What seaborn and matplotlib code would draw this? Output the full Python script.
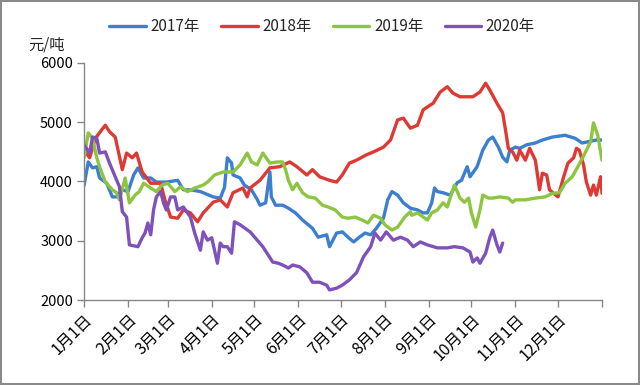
import matplotlib
matplotlib.use("Agg")
import matplotlib.pyplot as plt
import matplotlib.transforms as mtransforms
import seaborn as sns
import pandas as pd

# ---- data (day of year, price in 元/吨) ----
years = ["2017年", "2018年", "2019年", "2020年"]
colors = ["#3D7FCF", "#DE3A33", "#8DC440", "#7E52B8"]

days_2017 = [0, 3, 6, 9, 11, 16, 20, 23, 27, 31, 35, 38, 42, 47, 51, 58, 66, 70, 75, 82, 91, 96, 99,
             101, 104, 105, 110, 113, 118, 122, 124, 128, 131, 132, 135, 140, 144, 149, 154, 161, 165,
             171, 173, 178, 182, 186, 190, 194, 198, 202, 206, 211, 214, 217, 221, 225, 230, 235, 239,
             242, 245, 247, 249, 253, 258, 263, 266, 270, 272, 277, 281, 285, 288, 292, 295, 298, 300,
             304, 307, 312, 318, 323, 330, 339, 346, 351, 355, 361, 365]
vals_2017 = [3930, 4330, 4230, 4250, 4060, 3970, 3740, 3740, 3860, 3830, 4110, 4230, 4060, 4060, 3990,
             3990, 4020, 3860, 3860, 3830, 3740, 3720, 3900, 4400, 4310, 4110, 4060, 3940, 3860, 3700,
             3600, 3640, 4160, 3740, 3600, 3600, 3550, 3470, 3350, 3210, 3060, 3100, 2900, 3130, 3150,
             3060, 2980, 3060, 3130, 3100, 3210, 3380, 3690, 3830, 3770, 3640, 3550, 3520, 3470, 3470,
             3640, 3890, 3830, 3810, 3770, 3980, 4020, 4250, 4080, 4250, 4530, 4700, 4750, 4580, 4410,
             4330, 4530, 4580, 4560, 4620, 4650, 4700, 4750, 4780, 4730, 4650, 4670, 4700, 4700]

days_2018 = [0, 4, 8, 15, 18, 22, 27, 30, 34, 37, 41, 47, 54, 57, 61, 66, 70, 75, 80, 84, 91, 96, 101,
             105, 112, 115, 117, 124, 131, 138, 145, 150, 157, 161, 166, 173, 178, 182, 187, 192, 199,
             204, 211, 216, 221, 225, 230, 235, 239, 244, 246, 251, 256, 260, 265, 270, 274, 279, 283,
             286, 291, 295, 297, 299, 302, 305, 307, 311, 314, 318, 319, 321, 323, 326, 328, 334, 338,
             341, 345, 347, 349, 352, 354, 357, 359, 361, 364, 365]
vals_2018 = [4530, 4400, 4730, 4950, 4840, 4750, 4200, 4480, 4400, 4480, 4160, 3970, 3970, 3690, 3400,
             3380, 3520, 3470, 3320, 3470, 3650, 3690, 3570, 3810, 3890, 3740, 3890, 4020, 4230, 4250,
             4330, 4250, 4110, 4200, 4080, 4020, 3990, 4110, 4310, 4360, 4450, 4500, 4580, 4700, 5040,
             5070, 4900, 4950, 5210, 5290, 5320, 5510, 5600, 5490, 5430, 5430, 5430, 5510, 5660, 5540,
             5320, 5160, 4870, 4560, 4500, 4360, 4530, 4360, 4560, 4360, 4200, 3860, 4140, 4110, 3860,
             3740, 4080, 4310, 4400, 4560, 4530, 4280, 3990, 3770, 3940, 3770, 4080, 3800]

days_2019 = [0, 3, 6, 9, 11, 15, 17, 20, 23, 25, 29, 32, 36, 39, 42, 47, 51, 55, 59, 64, 68, 73, 78, 84,
             87, 92, 98, 101, 105, 110, 115, 118, 122, 126, 131, 136, 140, 142, 144, 147, 150, 154, 158,
             163, 168, 172, 177, 182, 186, 191, 196, 200, 204, 209, 212, 217, 221, 226, 230, 231, 235,
             239, 242, 245, 249, 253, 256, 261, 265, 268, 271, 273, 276, 279, 281, 285, 288, 293, 299,
             302, 304, 311, 318, 325, 330, 335, 339, 344, 348, 353, 357, 359, 362, 364, 365]
vals_2019 = [4400, 4820, 4730, 4400, 4250, 3990, 3940, 3860, 3810, 3690, 4060, 3640, 3770, 3830, 3970,
             3890, 3830, 3940, 3970, 3830, 3910, 3830, 3890, 3940, 3990, 4110, 4160, 4160, 4160, 4280,
             4480, 4330, 4280, 4480, 4310, 4330, 4330, 4200, 4020, 3860, 3970, 3810, 3740, 3720, 3600,
             3570, 3520, 3400, 3380, 3400, 3350, 3300, 3430, 3380, 3270, 3180, 3230, 3400, 3490, 3430,
             3470, 3400, 3350, 3470, 3520, 3640, 3570, 3940, 3720, 3650, 3720, 3470, 3230, 3520, 3770,
             3720, 3720, 3740, 3720, 3650, 3690, 3690, 3720, 3740, 3800, 3810, 3970, 4080, 4250, 4480,
             4670, 4990, 4780, 4500, 4360]

days_2020 = [0, 4, 6, 9, 11, 15, 18, 22, 25, 27, 30, 32, 38, 41, 43, 45, 47, 49, 51, 54, 56, 58, 61,
             64, 66, 70, 75, 78, 82, 84, 87, 90, 94, 96, 98, 101, 104, 106, 110, 117, 126, 133, 137,
             140, 144, 147, 152, 157, 161, 166, 171, 173, 178, 182, 187, 192, 197, 202, 205, 209, 213,
             218, 223, 228, 232, 237, 242, 249, 256, 261, 267, 272, 274, 277, 279, 283, 286, 288, 291,
             293, 295]
vals_2020 = [4620, 4480, 4750, 4730, 4480, 4500, 4310, 4080, 3910, 3490, 3400, 2930, 2900, 3050, 3130,
             3300, 3100, 3520, 3740, 3830, 3640, 3520, 3740, 3740, 3520, 3570, 3400, 3130, 2840, 3150,
             3010, 3050, 2620, 2960, 2900, 2900, 2790, 3320, 3270, 3150, 2900, 2640, 2620, 2590, 2540,
             2590, 2560, 2460, 2300, 2300, 2250, 2170, 2200, 2250, 2340, 2460, 2730, 2900, 3130, 3010,
             3150, 3010, 3060, 3010, 2900, 2980, 2930, 2880, 2880, 2900, 2880, 2810, 2640, 2710, 2620,
             2790, 3060, 3180, 2930, 2810, 2960]

month_starts = [0, 31, 59, 90, 120, 151, 181, 212, 243, 273, 304, 334, 365]
month_labels = ["1月1日", "2月1日", "3月1日", "4月1日", "5月1日", "6月1日", "7月1日",
                "8月1日", "9月1日", "10月1日", "11月1日", "12月1日"]
y_ticks = [2000, 3000, 4000, 5000, 6000]

frames = []
for name, d, v in zip(years,
                      [days_2017, days_2018, days_2019, days_2020],
                      [vals_2017, vals_2018, vals_2019, vals_2020]):
    frames.append(pd.DataFrame({"day": d, "price": v, "year": name}))
df = pd.concat(frames, ignore_index=True)

sns.set_theme(style="white")
plt.rcParams["font.family"] = ["Noto Sans CJK SC", "DejaVu Sans"]

fig = plt.figure(figsize=(6.4, 3.85), dpi=100)
fig.patch.set_edgecolor("#8a8a8a")
fig.patch.set_linewidth(1.5)
ax = fig.add_axes([84 / 640, 1 - 300 / 385, (602 - 84) / 640, (300 - 63) / 385])

sns.lineplot(data=df, x="day", y="price", hue="year", palette=colors,
             estimator=None, sort=False, linewidth=2.4, ax=ax, legend=True)

ax.set_xlim(0, 365)
ax.set_ylim(2000, 6000)
ax.set_yticks(y_ticks)
ax.set_yticklabels([str(t) for t in y_ticks], fontsize=10.5)
ax.set_xticks(month_starts)
ax.set_xticklabels(month_labels + [""], fontsize=11.5, rotation=45,
                   ha="right", rotation_mode="anchor")
ax.set_xlabel("")
ax.set_ylabel("")

shift = mtransforms.ScaledTranslation(10 / 100, -8 / 100, fig.dpi_scale_trans)
for lab in ax.get_xticklabels():
    lab.set_transform(lab.get_transform() + shift)

for s in ["top", "right"]:
    ax.spines[s].set_visible(False)
for s in ["left", "bottom"]:
    ax.spines[s].set_color("#868686")
    ax.spines[s].set_linewidth(1.0)
ax.tick_params(axis="both", which="major", direction="out", length=5, width=1,
               color="#868686", labelcolor="#000000", bottom=True, left=True)
ax.tick_params(axis="x", pad=3)
ax.tick_params(axis="y", pad=3)

handles, labels = ax.get_legend_handles_labels()
ax.legend(handles, labels, loc="center", bbox_to_anchor=(322 / 640, 1 - 27 / 385),
          bbox_transform=fig.transFigure, ncol=4, frameon=False, fontsize=11,
          handlelength=2.4, columnspacing=1.4, handletextpad=0.3)

fig.text(47 / 640, 1 - 45 / 385, "元/吨", ha="center", va="center", fontsize=11)

fig.savefig("out.png", dpi=100)
